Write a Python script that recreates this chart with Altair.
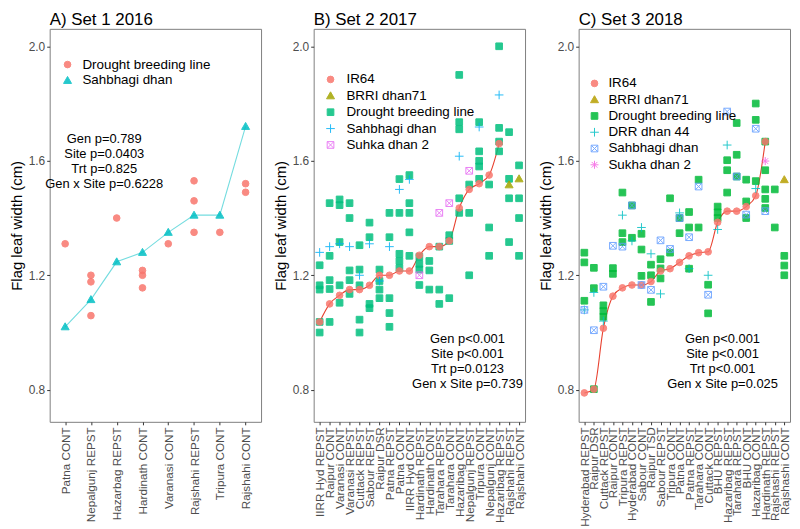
import altair as alt
import pandas as pd

# ---------------- Panel A : Set 1 2016 ----------------
A_SITES = ["Patna CONT", "Nepalgunj REPST", "Hazarbag REPST", "Hardinath CONT",
           "Varanasi CONT", "Rajshahi REPST", "Tripura CONT", "Rajshahi CONT"]
A_DBL = [[1.31], [1.20, 1.177, 1.059], [1.40], [1.217, 1.20, 1.156], [1.31],
         [1.53, 1.46, 1.35], [1.35], [1.52, 1.49]]
A_SAHBHAGI = [1.02, 1.115, 1.247, 1.28, 1.35, 1.41, 1.41, 1.72]
A_STATS = ["Gen p=0.789", "Site p=0.0403", "Trt p=0.825", "Gen x Site p=0.6228"]
A_STATS_Y = [1.675, 1.624, 1.572, 1.52]

# ---------------- Panel B : Set 2 2017 ----------------
B_SITES = ["IIRR Hyd REPST", "Raipur CONT", "Varanasi CONT", "Varanasi REPST",
           "Cuttack REPST", "Sabour REPST", "Raipur DSR", "Patna REPST", "Patna CONT",
           "IIRR Hyd CONT", "Hardinath REPST", "Hardinath CONT", "Tarahara REPST",
           "Tarahara CONT", "Hazaribag CONT", "Nepalgunj REPST", "Tripura CONT",
           "Nepalgunj CONT", "Hazaribag REPST", "Rajshahi REPST", "Rajshahi CONT"]
B_IR64 = [1.037, 1.10, 1.13, 1.15, 1.15, 1.165, 1.20, 1.20, 1.215, 1.215, 1.27,
          1.30, 1.30, 1.32, 1.435, 1.50, 1.52, 1.55, 1.66, None, None]
B_BRRI = [None] * 19 + [1.516, 1.537]
B_DBL = [[1.235, 1.165, 1.15, 1.037, 1.00],
         [1.452, 1.268, 1.183, 1.152, 1.037],
         [1.465, 1.445, 1.316, 1.165, 1.104],
         [1.452, 1.40, 1.217, 1.183, 1.135],
         [1.305, 1.22, 1.165, 1.045, 1.00],
         [1.384, 1.333, 1.10, 1.085],
         [1.22, 1.18, 1.15, 1.12],
         [1.418, 1.333, 1.12, 1.068, 1.02],
         [1.536, 1.418, 1.275, 1.25, 1.225],
         [1.55, 1.452, 1.418, 1.35, 1.268],
         [1.265, 1.24, 1.22, 1.166],
         [1.25, 1.217, 1.15],
         [1.30, 1.15, 1.10],
         [1.34, 1.32, 1.12],
         [1.90, 1.735, 1.71, 1.469, 1.418],
         [1.517, 1.418, 1.20],
         [1.735, 1.633, 1.60, 1.58, 1.537],
         [1.517, 1.367, 1.268],
         [2.00, 1.715, 1.667, 1.633],
         [1.70, 1.537, 1.469, 1.316],
         [1.584, 1.469, 1.40, 1.268]]
B_SAHBHAGI = [1.28, 1.30, 1.31, 1.30, 1.20, 1.31, 1.18, 1.30, 1.50, 1.535, None,
              None, None, None, 1.616, None, 1.718, None, 1.83, None, None]
B_SUHKA = [None] * 10 + [1.20, None, 1.418, 1.452, None, 1.565, None, None, None, None, None]
B_STATS = ["Gen p<0.001", "Site p<0.001", "Trt p=0.0123", "Gen x Site p=0.739"]
B_STATS_Y = [0.977, 0.925, 0.873, 0.82]

# ---------------- Panel C : Set 3 2018 ----------------
C_SITES = ["Hyderabad REPST", "Raipur DSR", "Cuttack REPST", "Raipur CONT",
           "Tripura REPST", "Hyderabad CONT", "Sabour CONT", "Raipur TSD",
           "Sabour REPST", "Tripura CONT", "Patna CONT", "Patna REPST",
           "Tarahara CONT", "Cuttack CONT", "BHU REPST", "Hazaribag REPST",
           "Tarahara REPST", "BHU CONT", "Hazaribag CONT", "Hardinath REPST",
           "Rajshashi REPST", "Rajshashi CONT"]
C_IR64 = [0.789, 0.802, 1.015, 1.127, 1.156, 1.166, 1.166, 1.178, 1.215, 1.223,
          1.245, 1.268, 1.279, 1.282, 1.385, 1.424, 1.424, 1.44, 1.478, 1.667, None, None]
C_BRRI = [None] * 21 + [1.534]
C_DBL = [[1.279, 1.245, 1.111],
         [1.226, 1.155, 0.802],
         [1.095, 1.075, 1.055],
         [1.225, 1.205],
         [1.489, 1.347, 1.316],
         [1.444, 1.331],
         [1.345, 1.29, 1.198],
         [1.237, 1.20, 1.107],
         [1.256, 1.224, 1.189],
         [1.469, 1.279],
         [1.40, 1.347],
         [1.421, 1.367, 1.223],
         [1.534, 1.367],
         [1.167, 1.067],
         [1.44, 1.42, 1.40],
         [1.602, 1.567, 1.489],
         [1.732, 1.621, 1.545],
         [1.534, 1.458, 1.40],
         [1.80, 1.743, 1.529],
         [1.667, 1.567, 1.50, 1.467, 1.435],
         [1.50, 1.367],
         [1.268, 1.234, 1.20]]
C_DRR = [1.079, 1.14, 1.04, None, 1.41, 1.32, 1.367, 1.275, 1.135, None, 1.418,
         1.223, None, 1.20, 1.36, 1.655, None, None, 1.503, None, None, None]
C_SAHBHAGI = [1.079, 1.008, 1.16, 1.303, 1.30, 1.444, 1.166, 1.149, 1.322, 1.292,
              1.40, 1.333, 1.51, 1.132, None, 1.772, 1.545, 1.412, 1.712, 1.424, None, None]
C_SUKHA = [None] * 19 + [1.599, None, None]
C_STATS = ["Gen p<0.001", "Site p<0.001", "Trt p<0.001", "Gen x Site p=0.025"]
C_STATS_Y = [0.977, 0.925, 0.873, 0.82]

# ---------------- styling ----------------
PLUS = "M-1.3,0L1.3,0M0,-1.3L0,1.3"
BOXX = "M-1,-1L1,-1L1,1L-1,1Z M-1,-1L1,1 M-1,1L1,-1"
STAR = "M-1.2,0L1.2,0M0,-1.2L0,1.2M-0.85,-0.85L0.85,0.85M-0.85,0.85L0.85,-0.85"
TRI = "M0,-1.2L1.2,0.9L-1.2,0.9Z"
FONT = "Liberation Sans"
W, H = 213, 396
Y_DOMAIN = [0.688, 2.061]


def long_df(sites, series):
    rows = []
    for g, vals in series:
        for s, v in zip(sites, vals):
            if v is None:
                continue
            for val in (v if isinstance(v, list) else [v]):
                rows.append({"site": s, "group": g, "value": val})
    return pd.DataFrame(rows)


def panel(title, sites, series, groups, fills, strokes, shapes, line_group,
          line_color, line_opacity, interp, stats, stats_x, stats_y,
          leg_sym_x, leg_txt_x, leg_y0, leg_y1):
    df = long_df(sites, series)
    line_df = df[df["group"] == line_group]
    xenc = alt.X("site:N", sort=sites,
                 scale=alt.Scale(type="point", padding=0.6, domain=sites),
                 axis=alt.Axis(title=None, labelAngle=-90, labelFontSize=11.8,
                               labelColor="#4D4D4D", tickColor="#333333", grid=False,
                               tickSize=3, domain=False, labelPadding=2))
    yenc = alt.Y("value:Q",
                 scale=alt.Scale(domain=Y_DOMAIN, nice=False, zero=False),
                 axis=alt.Axis(title="Flag leaf width (cm)", values=[0.8, 1.2, 1.6, 2.0],
                               format=".1f", labelFontSize=12, labelColor="#4D4D4D",
                               tickColor="#333333", tickSize=3, domain=False, grid=False,
                               titleFontSize=15, titleColor="black",
                               titleFontWeight="normal", labelPadding=2, titlePadding=4))
    fill = alt.Fill("group:N", scale=alt.Scale(domain=groups, range=fills), legend=None)
    stroke = alt.Stroke("group:N", scale=alt.Scale(domain=groups, range=strokes), legend=None)
    shape = alt.Shape("group:N", scale=alt.Scale(domain=groups, range=shapes), legend=None)

    line = alt.Chart(line_df).mark_line(
        color=line_color, strokeWidth=1.1, opacity=line_opacity,
        interpolate=interp).encode(x=xenc, y=yenc)
    pts = alt.Chart(df).mark_point(filled=True, size=45, strokeWidth=1, opacity=0.85).encode(
        x=xenc, y=yenc, fill=fill, stroke=stroke, shape=shape)
    sdf = pd.DataFrame({"label": stats, "value": stats_y})
    txt = alt.Chart(sdf).mark_text(fontSize=13, color="black", align="center",
                                   baseline="middle", font=FONT).encode(
        x=alt.value(stats_x), y=alt.Y("value:Q", scale=alt.Scale(domain=Y_DOMAIN, nice=False, zero=False)),
        text="label:N")
    data_layer = alt.layer(line, pts, txt)

    # legend drawn as its own small layer (entries = the group names)
    ldf = pd.DataFrame({"group": groups})
    ly = alt.Y("group:N", scale=alt.Scale(type="point", padding=0, domain=groups,
                                          range=[leg_y0, leg_y1]), axis=None)
    lsym = alt.Chart(ldf).mark_point(filled=True, size=45, strokeWidth=1, opacity=0.85).encode(
        x=alt.value(leg_sym_x), y=ly, fill=fill, stroke=stroke, shape=shape)
    ltxt = alt.Chart(ldf).mark_text(fontSize=13.5, color="black", align="left",
                                    baseline="middle", font=FONT).encode(
        x=alt.value(leg_txt_x), y=ly, text="group:N")
    legend_layer = alt.layer(lsym, ltxt)

    return alt.layer(data_layer, legend_layer).resolve_scale(y="independent").properties(
        width=W, height=H,
        title=alt.TitleParams(title, anchor="start", frame="group", fontSize=17,
                              fontWeight="normal", color="black", font=FONT, offset=0))


pA = panel("A) Set 1 2016", A_SITES,
           [("Drought breeding line", A_DBL), ("Sahbhagi dhan", A_SAHBHAGI)],
           ["Drought breeding line", "Sahbhagi dhan"],
           ["#F8766D", "#00BFC4"], ["#F8766D", "#00BFC4"], ["circle", TRI],
           "Sahbhagi dhan", "#00BFC4", 0.55, "linear", A_STATS, 55, A_STATS_Y,
           18, 33, 36, 52)

pB = panel("B) Set 2 2017", B_SITES,
           [("Drought breeding line", B_DBL), ("IR64", B_IR64), ("BRRI dhan71", B_BRRI),
            ("Sahbhagi dhan", B_SAHBHAGI), ("Suhka dhan 2", B_SUHKA)],
           ["IR64", "BRRI dhan71", "Drought breeding line", "Sahbhagi dhan", "Suhka dhan 2"],
           ["#F8766D", "#A3A500", "#00BF7D", "transparent", "transparent"],
           ["#F8766D", "#A3A500", "#00BF7D", "#00B0F6", "#E76BF3"],
           ["circle", TRI, "square", PLUS, BOXX],
           "IR64", "#E8412F", 1.0, "monotone", B_STATS, 155, B_STATS_Y,
           17, 33, 51, 117)

pC = panel("C) Set 3 2018", C_SITES,
           [("Drought breeding line", C_DBL), ("IR64", C_IR64), ("BRRI dhan71", C_BRRI),
            ("DRR dhan 44", C_DRR), ("Sahbhagi dhan", C_SAHBHAGI), ("Sukha dhan 2", C_SUKHA)],
           ["IR64", "BRRI dhan71", "Drought breeding line", "DRR dhan 44",
            "Sahbhagi dhan", "Sukha dhan 2"],
           ["#F8766D", "#B79F00", "#00BA38", "transparent", "transparent", "transparent"],
           ["#F8766D", "#B79F00", "#00BA38", "#00BFC4", "#619CFF", "#F564E3"],
           ["circle", TRI, "square", PLUS, BOXX, STAR],
           "IR64", "#E8412F", 1.0, "monotone", C_STATS, 145, C_STATS_Y,
           16, 30, 55, 137)

chart = alt.hconcat(pA, pB, pC, spacing=10).resolve_scale(
    x="independent", y="independent", fill="independent", stroke="independent",
    shape="independent").properties(
    padding=0).configure(font=FONT).configure_view(stroke="#7F7F7F", strokeWidth=1)

chart.save("out.html", embed_options={"renderer": "svg", "actions": False})
